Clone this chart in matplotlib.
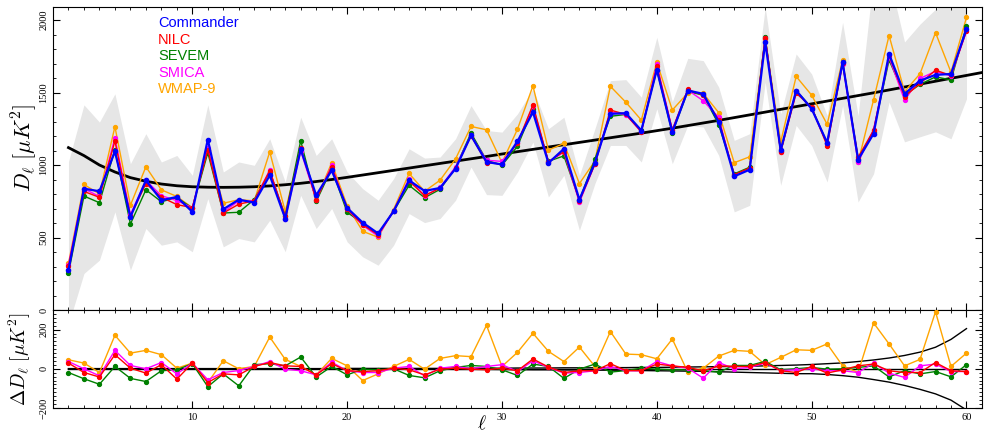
import numpy as np
import matplotlib
matplotlib.use("Agg")
import matplotlib.pyplot as plt
from matplotlib.ticker import MultipleLocator

plt.rcParams['font.family'] = ['Liberation Serif', 'DejaVu Serif']
plt.rcParams['mathtext.fontset'] = 'cm'

# multipoles
ell = np.arange(2, 61)

# Commander D_ell [uK^2]
commander = [275, 837, 819, 1094, 642, 894, 757, 780, 677, 1176,
             695, 761, 741, 929, 631, 1108, 791, 963, 704, 603,
             528, 681, 894, 821, 842, 975, 1204, 1021, 1004, 1163,
             1365, 1014, 1112, 761, 1016, 1353, 1358, 1238, 1658, 1227,
             1514, 1491, 1296, 922, 968, 1847, 1101, 1514, 1388, 1154,
             1709, 1037, 1216, 1766, 1491, 1582, 1622, 1628, 1938]

# differences to Commander
d_nilc = [29, -19, -42, 72, 3, -22, 21, -53, 29, -70,
          -26, -31, 12, 32, 15, 12, -31, 26, -10, -14,
          -10, 3, -5, -31, -2, 3, -2, -5, 3, -10,
          50, 9, -19, -10, -10, 26, -9, -9, 24, 15,
          7, -10, 15, 12, 12, 32, -10, -19, 12, -22,
          -5, 15, 24, -10, -19, -19, 32, -10, -14]
d_sevem = [-19, -51, -79, 12, -49, -65, -10, -5, 26, -91,
           -26, -87, 21, 26, 15, 60, -42, 12, -31, -2,
           -5, 0, -34, -46, -10, 7, 17, 12, -5, -34,
           24, 12, -49, -2, 24, -17, -9, 3, -2, -5,
           -5, -10, -17, 17, 17, 38, -5, 0, 7, -2,
           0, 7, 15, -42, -9, -26, -14, -41, 21]
d_smica = [37, 0, -36, 94, 17, 0, 32, -26, 29, -56,
           -19, -9, 12, 37, -2, -10, -31, 34, -10, -19,
           -19, 3, 12, -36, 3, 12, 0, 12, 21, -14,
           41, 7, -22, -19, -10, 12, -10, -10, 37, 15,
           3, -48, 32, 0, 7, 29, -9, -5, 0, -10,
           -10, -19, 29, -22, -44, 15, 24, -14, -14]
d_wmap = [46, 29, -19, 171, 80, 94, 72, 3, 29, -70,
          41, 0, 12, 162, 48, 12, -31, 53, 15, -60,
          -26, 12, 48, -2, 53, 67, 62, 222, 12, 84,
          181, 89, 37, 111, 12, 190, 75, 72, 51, 152,
          -17, 3, 65, 94, 89, 21, 58, 97, 94, 127,
          15, -19, 234, 127, 15, 48, 291, 12, 80]

# grey error band
band_hi = [1023, 1415, 1296, 1491, 1009, 1216, 1021, 1066, 929, 1415,
           952, 1021, 998, 1181, 883, 1330, 1066, 1181, 952, 837,
           757, 906, 1112, 1048, 1055, 1181, 1410, 1238, 1227, 1353,
           1525, 1250, 1330, 929, 1250, 1582, 1589, 1468, 1881, 1436,
           1736, 1720, 1537, 1170, 1216, 2089, 1353, 1766, 1628, 1341,
           1984, 1341, 2300, 2300, 1849, 1972, 2075, 2150, 2200]
band_lo = [-100, 252, 344, 677, 275, 562, 447, 470, 402, 768,
           436, 493, 470, 619, 402, 791, 562, 700, 470, 367,
           309, 447, 665, 603, 631, 757, 986, 796, 791, 952,
           1158, 780, 929, 550, 872, 1135, 1135, 1021, 1388, 1009,
           1273, 1262, 1066, 677, 722, 1571, 860, 1273, 1135, 883,
           1410, 745, 940, 1434, 1160, 1195, 1229, 1181, 1456]

# best-fit model, ell = 2..61
ell_model = np.arange(2, 62)
model = [1120, 1065, 1000, 952, 913, 888, 869, 857, 850, 847,
         846, 847, 850, 856, 864, 874, 886, 900, 915, 931,
         947, 963, 979, 995, 1011, 1027, 1043, 1059, 1076, 1092,
         1108, 1124, 1140, 1156, 1172, 1188, 1204, 1220, 1237, 1254,
         1272, 1290, 1308, 1327, 1346, 1365, 1384, 1403, 1422, 1441,
         1460, 1479, 1498, 1518, 1538, 1558, 1578, 1598, 1618, 1638]

# envelope in the difference panel
env_hi = [1, 1, 1, 1, 1, 1, 1, 1, 1, 1,
          1, 1, 1, 1, 1, 1, 1, 1, 2, 2,
          2, 2, 2, 2, 2, 3, 3, 3, 3, 4,
          4, 4, 5, 5, 5, 6, 6, 7, 7, 8,
          9, 10, 11, 12, 13, 15, 17, 19, 22, 26,
          30, 37, 45, 55, 68, 85, 110, 150, 205]
env_lo = [-1, -1, -1, -1, -1, -1, -1, -1, -1, -1,
          -1, -1, -1, -1, -1, -1, -1, -1, -2, -2,
          -2, -2, -2, -2, -2, -3, -3, -3, -4, -4,
          -5, -5, -6, -6, -7, -7, -8, -9, -10, -11,
          -12, -13, -15, -17, -19, -21, -23, -25, -25, -29,
          -35, -43, -55, -68, -85, -105, -128, -160, -210]

series = [('WMAP-9', d_wmap, 'orange'),
          ('SEVEM', d_sevem, 'green'),
          ('SMICA', d_smica, 'magenta'),
          ('NILC', d_nilc, 'red')]
legend_order = [('Commander', 'blue'), ('NILC', 'red'), ('SEVEM', 'green'),
                ('SMICA', 'magenta'), ('WMAP-9', 'orange')]

comm = np.array(commander)

fig = plt.figure(figsize=(9.96, 4.32), dpi=100)
ax = fig.add_axes([0.0532, 0.2824, 0.9327, 0.7014])
ax2 = fig.add_axes([0.0532, 0.0556, 0.9327, 0.2268])

# top panel
ax.fill_between(ell, band_lo, band_hi, color='0.9', lw=0, zorder=0)
ax.plot(ell_model, model, color='k', lw=2, zorder=2)
for name, d, c in series:
    ax.plot(ell, comm + np.array(d), color=c, lw=1, marker='o', ms=2.8, zorder=3)
ax.plot(ell, comm, color='blue', lw=1.6, marker='o', ms=3, zorder=4)

for i, (name, c) in enumerate(legend_order):
    ax.text(0.113, 0.947 - i * 0.0545, name, color=c, transform=ax.transAxes,
            fontsize=10.5, family=['Liberation Sans', 'DejaVu Sans'], va='center')

ax.set_xlim(1, 61)
ax.set_ylim(0, 2090)
ax.set_xticklabels([])
ax.set_ylabel(r'$D_\ell\ [\mu K^2]$', fontsize=16)
ax.yaxis.set_label_coords(-0.015, 0.535)

# bottom panel
ax2.plot(ell, np.zeros(len(ell)), color='k', lw=1, zorder=1)
ax2.plot(ell, env_hi, color='k', lw=1, zorder=1)
ax2.plot(ell, env_lo, color='k', lw=1, zorder=1)
for name, d, c in series:
    ax2.plot(ell, d, color=c, lw=1, marker='o', ms=2.8, zorder=3)
ax2.set_xlim(1, 61)
ax2.set_ylim(-200, 300)
ax2.set_ylabel(r'$\Delta D_\ell\ [\mu K^2]$', fontsize=14)
ax2.yaxis.set_label_coords(-0.021, 0.5)

for a, ymaj, ymin in [(ax, 500, 100), (ax2, 200, 20)]:
    a.xaxis.set_major_locator(MultipleLocator(10))
    a.xaxis.set_minor_locator(MultipleLocator(1))
    a.yaxis.set_major_locator(MultipleLocator(ymaj))
    a.yaxis.set_minor_locator(MultipleLocator(ymin))
    a.tick_params(which='both', direction='in', top=True, right=True, labelsize=7.5)
    a.tick_params(which='major', length=5)
    a.tick_params(which='minor', length=2.5)
    for lab in a.get_yticklabels():
        lab.set_rotation(90)
        lab.set_va('center')

ax2.set_yticks([-200, 0, 200])
for lab in ax2.get_yticklabels():
    lab.set_rotation(90)
    lab.set_va('center')

fig.text(482 / 996, 1 - 424 / 432, r'$\ell$', fontsize=14, ha='center', va='center')

fig.savefig('out.png', dpi=100)
